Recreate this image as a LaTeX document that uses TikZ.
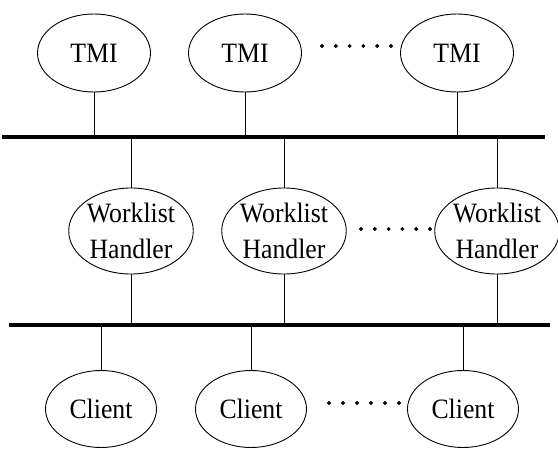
\documentclass[tikz,border=0pt]{standalone}
\usepackage{fontspec}
\setmainfont{Liberation Serif}[FakeStretch=0.92]
\usetikzlibrary{shapes.geometric}

\begin{document}
\begin{tikzpicture}[x=1pt,y=-1pt,
  unit/.style={draw,ellipse,line width=.9pt,inner sep=0pt,
    font=\fontsize{28}{36}\selectfont},
  tmi/.style={unit,minimum width=113pt,minimum height=78pt},
  handler/.style={unit,align=center,minimum width=124pt,minimum height=86pt},
  client/.style={unit,minimum width=111pt,minimum height=77pt},
  bus/.style={line width=3.2pt},
  stem/.style={line width=.9pt}]
\useasboundingbox (0,0) rectangle (558,450);
% buses
\coordinate (topL) at (2,137);
\coordinate (topR) at (545,137);
\coordinate (botL) at (9,325);
\coordinate (botR) at (550,325);
\draw [bus] (topL) -- (topR);
\draw [bus] (botL) -- (botR);
% TMIs
\node [tmi] (tmi1) at (94,53) {TMI};
\node [tmi] (tmi2) at (245,53) {TMI};
\node [tmi] (tmi3) at (457,53) {TMI};
\foreach \n in {tmi1,tmi2,tmi3}
  \draw [stem] (\n) -- (\n |- topL);
% worklist handlers
\node [handler] (wh1) at (131,231) {Worklist\\Handler};
\node [handler] (wh2) at (284,231) {Worklist\\Handler};
\node [handler] (wh3) at (497,231) {Worklist\\Handler};
\foreach \n in {wh1,wh2,wh3} {
  \draw [stem] (\n) -- (\n |- topL);
  \draw [stem] (\n) -- (\n |- botL);
}
% clients
\node [client] (cl1) at (101,409) {Client};
\node [client] (cl2) at (251,409) {Client};
\node [client] (cl3) at (463,409) {Client};
\foreach \n in {cl1,cl2,cl3}
  \draw [stem] (\n) -- (\n |- botL);
% dots
\foreach \i in {0,...,5} {
  \draw [fill] (322+13.8*\i,46) circle (1.8);
  \draw [fill] (361+13.8*\i,229) circle (1.8);
  \draw [fill] (329+14.0*\i,403) circle (1.8);
}
\end{tikzpicture}
\end{document}
